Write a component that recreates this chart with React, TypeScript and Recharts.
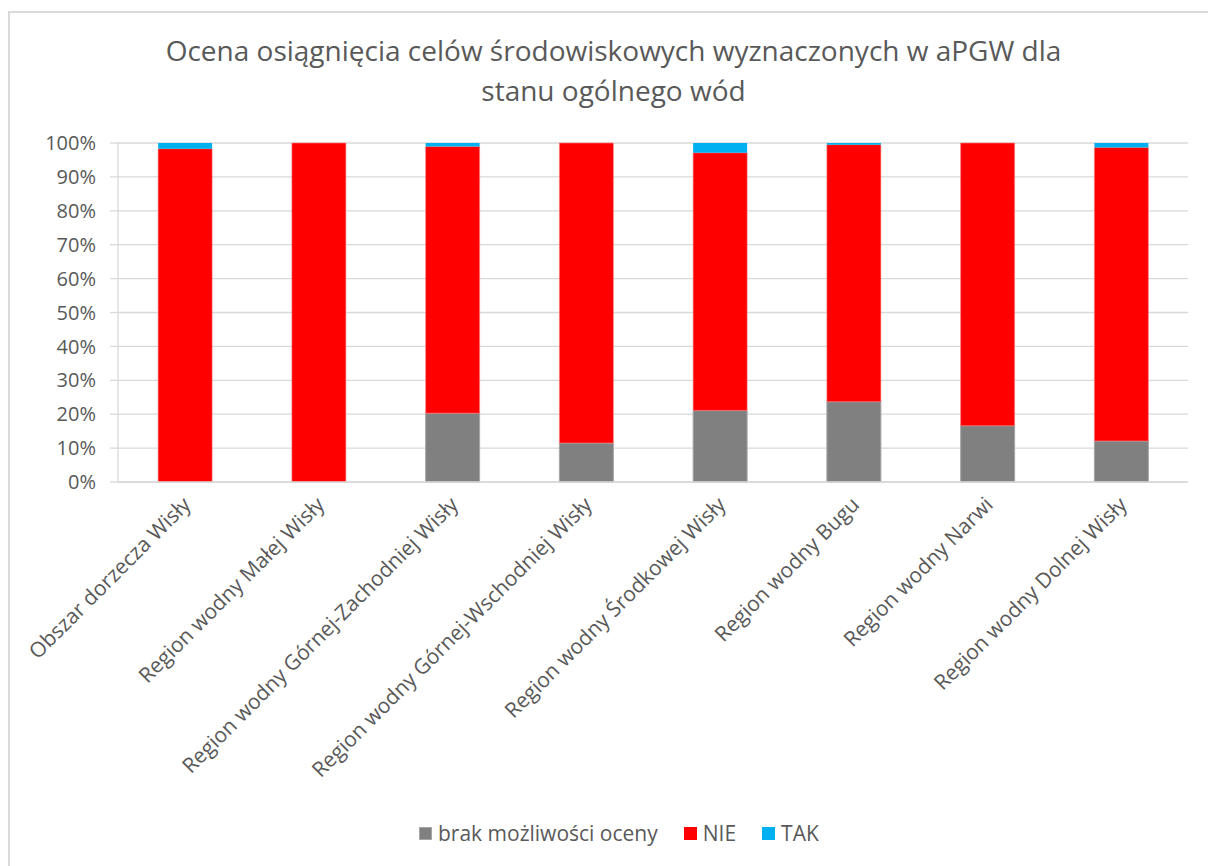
import React from "react";
import { BarChart, Bar, XAxis, YAxis, CartesianGrid } from "recharts";

const categories = [
  "Obszar dorzecza Wisły",
  "Region wodny Małej Wisły",
  "Region wodny Górnej-Zachodniej Wisły",
  "Region wodny Górnej-Wschodniej Wisły",
  "Region wodny Środkowej Wisły",
  "Region wodny Bugu",
  "Region wodny Narwi",
  "Region wodny Dolnej Wisły",
];
const brakValues = [0, 0, 20.3, 11.5, 21.1, 23.7, 16.6, 12.1];
const nieValues = [98.3, 100, 78.7, 88.5, 76.0, 75.8, 83.4, 86.6];
const takValues = [1.7, 0, 1.0, 0, 2.9, 0.5, 0, 1.3];
const yTicks = [0, 10, 20, 30, 40, 50, 60, 70, 80, 90, 100];
const titleLines = [
  "Ocena osiągnięcia celów środowiskowych wyznaczonych w aPGW dla",
  "stanu ogólnego wód",
];
const seriesNames = ["brak możliwości oceny", "NIE", "TAK"];
const seriesColors = ["#808080", "#FF0000", "#00B0F0"];

const data = categories.map((name, i) => ({
  name,
  brak: brakValues[i],
  nie: nieValues[i],
  tak: takValues[i],
}));

const FONT = "'Open Sans', sans-serif";
const TEXT = "#595959";

const XTick = (props: any) => {
  const { x, y, payload } = props;
  return (
    <g transform={`translate(${x + 7},${y + 16})`}>
      <text
        transform="rotate(-45)"
        textAnchor="end"
        fontSize={21}
        fontFamily={FONT}
        fill={TEXT}
      >
        {payload.value}
      </text>
    </g>
  );
};

export default function App() {
  return (
    <div style={{ position: "relative", width: 1208, height: 866, overflow: "hidden", background: "#fff" }}>
      <style>{"body{margin:0;overflow:hidden}"}</style>
      <div
        style={{
          position: "absolute",
          left: 8,
          top: 11,
          width: 1220,
          height: 880,
          border: "2px solid #d9d9d9",
        }}
      />
      <div
        style={{
          position: "absolute",
          left: 0,
          top: 30,
          width: 1227,
          textAlign: "center",
          fontFamily: FONT,
          fontSize: 28,
          color: TEXT,
          lineHeight: "40px",
        }}
      >
        {titleLines.map((l) => (
          <div key={l}>{l}</div>
        ))}
      </div>
      <div style={{ position: "absolute", left: 10, top: 13 }}>
        <BarChart
          width={1200}
          height={853}
          data={data}
          margin={{ top: 130, right: 22, left: 48, bottom: 84 }}
          barCategoryGap="30%"
        >
          <CartesianGrid vertical={false} stroke="#d9d9d9" strokeWidth={1.3} />
          <XAxis
            dataKey="name"
            interval={0}
            height={300}
            tick={<XTick />}
            axisLine={{ stroke: "#d9d9d9", strokeWidth: 1.3 }}
            tickLine={false}
          />
          <YAxis
            width={60}
            domain={[0, 100]}
            ticks={yTicks}
            tickFormatter={(v: number) => `${v}%`}
            axisLine={{ stroke: "#d9d9d9", strokeWidth: 1.3 }}
            tickLine={{ stroke: "#d9d9d9", strokeWidth: 1.3 }}
            tickSize={8}
            tickMargin={14}
            tick={{ fontSize: 20, fontFamily: FONT, fill: TEXT }}
          />
          <Bar dataKey="brak" stackId="a" fill={seriesColors[0]} stroke="#a6a6a6" strokeWidth={1} isAnimationActive={false} />
          <Bar dataKey="nie" stackId="a" fill={seriesColors[1]} stroke="#ff8080" strokeWidth={0.6} isAnimationActive={false} />
          <Bar dataKey="tak" stackId="a" fill={seriesColors[2]} isAnimationActive={false} />
        </BarChart>
      </div>
      <div
        style={{
          position: "absolute",
          left: 419,
          top: 819,
          display: "flex",
          alignItems: "center",
          fontFamily: FONT,
          fontSize: 21,
          color: TEXT,
          lineHeight: "28px",
        }}
      >
        {seriesNames.map((n, i) => (
          <div key={n} style={{ display: "flex", alignItems: "center", marginRight: 26 }}>
            <span
              style={{
                display: "inline-block",
                width: 13,
                height: 13,
                background: seriesColors[i],
                border: i === 0 ? "1px solid #a6a6a6" : "none",
                boxSizing: "border-box",
                marginRight: 6,
              }}
            />
            <span>{n}</span>
          </div>
        ))}
      </div>
    </div>
  );
}
